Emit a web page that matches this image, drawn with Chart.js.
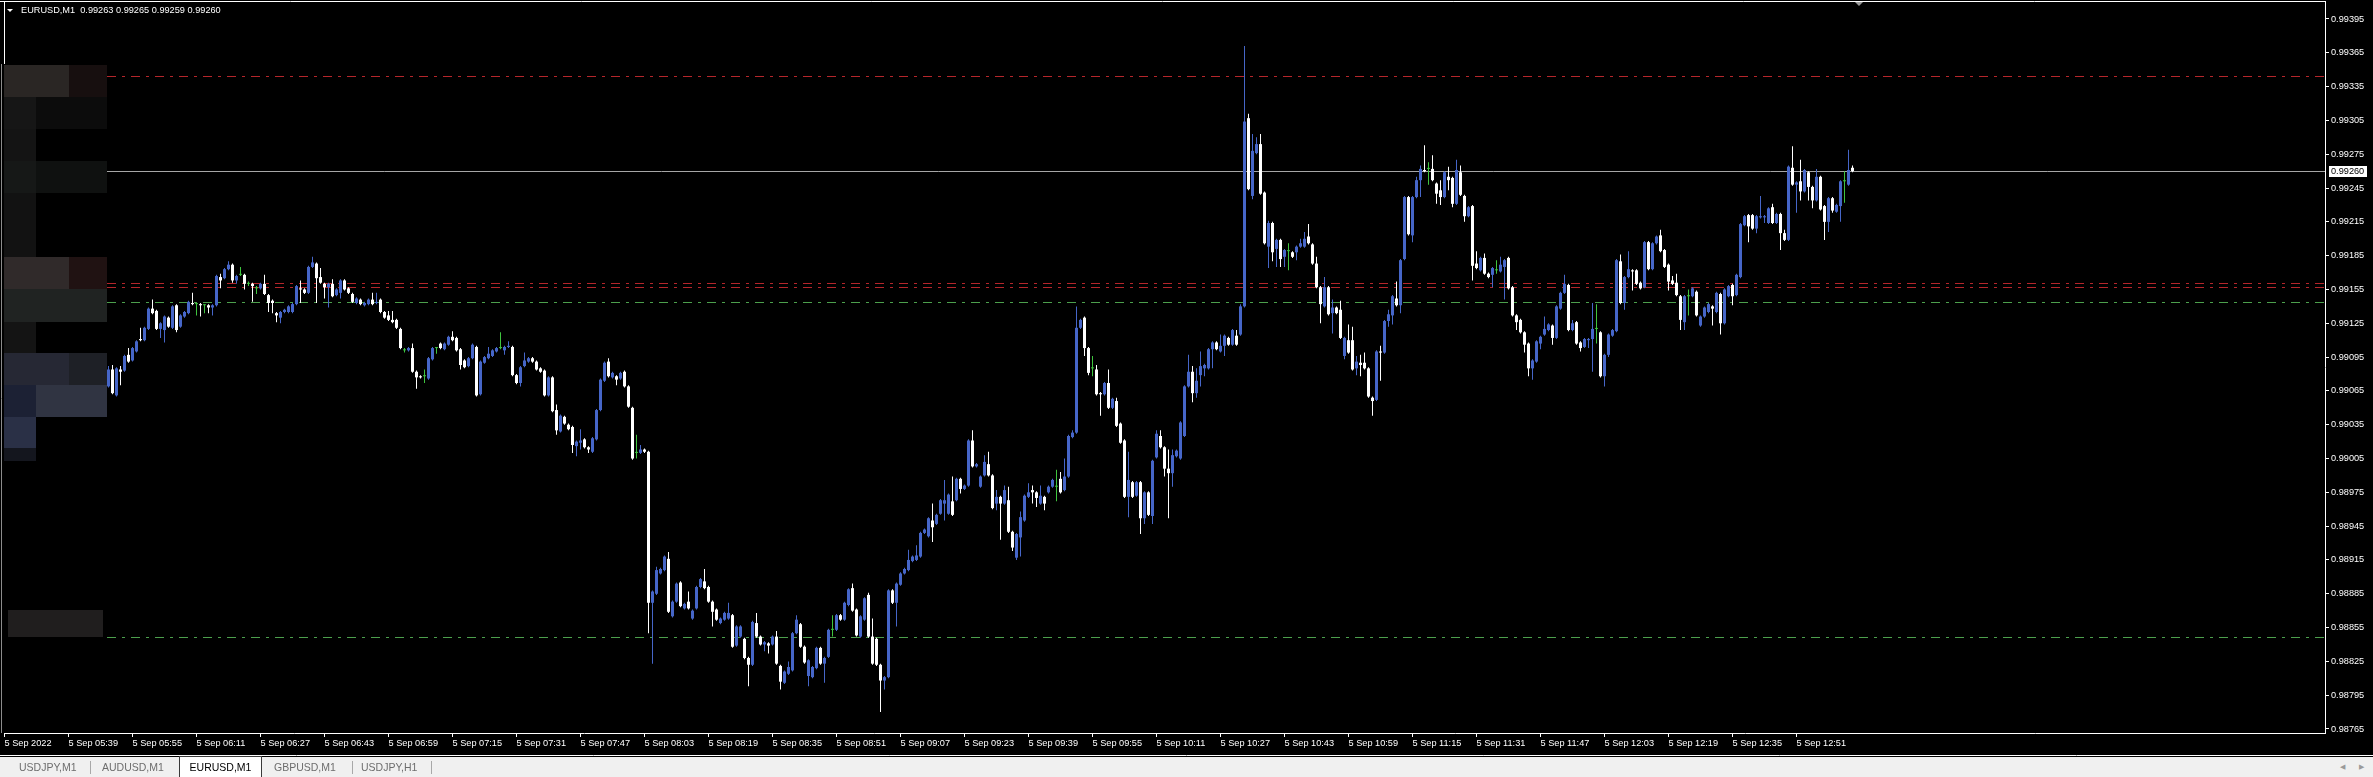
<!DOCTYPE html>
<html>
<head>
<meta charset="utf-8">
<title>EURUSD,M1</title>
<script src="https://cdn.jsdelivr.net/npm/chart.js@4.4.1/dist/chart.umd.min.js"></script>
<style>
  html, body { margin: 0; padding: 0; background: #000; width: 2373px; height: 777px; overflow: hidden; }
  #c { position: absolute; left: 0; top: 0; }
  #tabs { position: absolute; left: 0; top: 757px; width: 2373px; height: 20px; background: #f0f0f0;
          font: 10.5px "Liberation Sans", Arial, sans-serif; color: #6d6d6d; }
  #tabs span { position: absolute; top: 0; line-height: 20px; white-space: nowrap; }
  #tabs .sep { width: 1px; height: 13px; top: 4px; background: #a8a8a8; }
  #tabs .active { top: -1px; height: 20px; line-height: 21px; background: #fff; color: #000;
                  border: 1px solid #3a3a3a; border-bottom: none; text-align: center; }
  #tabs .arr { font-size: 7px; color: #9a9a9a; }
</style>
</head>
<body>
<canvas id="c" width="2373" height="757"></canvas>
<div id="tabs">
  <span style="left:19px">USDJPY,M1</span>
  <span class="sep" style="left:90px"></span>
  <span style="left:102px">AUDUSD,M1</span>
  <span class="active" style="left:179px;width:81px">EURUSD,M1</span>
  <span style="left:274px">GBPUSD,M1</span>
  <span class="sep" style="left:352px"></span>
  <span style="left:361px">USDJPY,H1</span>
  <span class="sep" style="left:431px"></span>
  <span class="arr" style="left:2340px">&#9664;</span>
  <span class="arr" style="left:2359px">&#9654;</span>
</div>
<script>
// EURUSD M1, 5 Sep 2022, one bar per minute starting 05:49
// prices are kept in points (0.00001) above 0.98000
const BASE = 0.98, POINT = 0.00001;
const firstBarMinute = 349; // 05:49

const opens = [
  1069,1084,1061,1084,1083,1097,1092,1100,1111,1110,
  1120,1138,1136,1120,1119,1130,1121,1141,1122,1131,
  1134,1143,1142,1142,1141,1141,1139,1141,1166,1165,
  1173,1177,1163,1168,1168,1160,1160,1156,1156,1160,
  1150,1145,1134,1130,1135,1135,1135,1142,1156,1155,
  1152,1175,1178,1166,1160,1157,1160,1150,1152,1163,
  1156,1151,1143,1146,1141,1142,1146,1143,1146,1135,
  1132,1128,1128,1120,1101,1101,1103,1082,1078,1078,
  1076,1093,1103,1107,1102,1106,1113,1112,1102,1092,
  1087,1094,1104,1062,1090,1094,1096,1100,1103,1101,
  1104,1104,1079,1072,1087,1091,1094,1091,1085,1083,
  1061,1077,1048,1029,1042,1035,1033,1016,1019,1022,
  1015,1011,1022,1048,1074,1091,1077,1078,1076,1082,
  1069,1050,1010,1010,1013,1011,877,885,903,906,
  916,865,878,895,872,878,863,872,891,896,
  891,878,871,859,862,863,866,839,847,845,
  828,822,859,847,840,841,840,847,821,806,
  814,817,850,858,838,812,811,819,837,823,
  829,853,853,866,862,875,890,871,847,862,
  884,847,845,822,808,811,888,877,893,903,
  906,914,915,918,939,936,950,947,956,965,
  956,967,968,987,978,981,1021,998,980,990,
  1000,990,965,971,965,968,940,917,935,950,
  971,977,975,965,971,975,980,980,987,977,
  989,1024,1028,1121,1130,1103,1085,1084,1063,1062,
  1072,1050,1056,1036,1021,971,984,972,984,952,
  975,954,1006,1025,1015,996,992,1007,1005,1025,
  1069,1082,1063,1079,1085,1085,1102,1108,1100,1105,
  1112,1106,1114,1115,1140,1307,1238,1276,1284,1241,
  1193,1214,1191,1199,1184,1189,1188,1188,1193,1193,
  1202,1195,1178,1157,1140,1157,1134,1139,1137,1096,
  1110,1110,1085,1090,1090,1085,1059,1057,1100,1099,
  1127,1132,1147,1141,1182,1237,1203,1237,1252,1261,
  1262,1262,1249,1243,1237,1255,1254,1231,1259,1238,
  1220,1229,1178,1172,1183,1169,1168,1172,1171,1175,
  1183,1157,1132,1128,1117,1107,1085,1091,1107,1115,
  1119,1123,1112,1138,1152,1159,1119,1126,1108,1104,
  1110,1111,1120,1117,1078,1097,1114,1118,1180,1143,
  1166,1172,1172,1161,1157,1197,1173,1196,1203,1190,
  1177,1163,1161,1149,1126,1149,1149,1153,1123,1131,
  1135,1140,1135,1151,1125,1149,1159,1150,1166,1212,
  1221,1221,1209,1219,1219,1214,1228,1214,1222,1205,
  1199,1263,1248,1251,1242,1259,1246,1234,1255,1229,
  1215,1236,1224,1229,1251,1248,1263
];
const highs = [
  1087,1088,1086,1087,1097,1103,1104,1110,1121,1122,
  1139,1146,1137,1126,1132,1131,1141,1142,1133,1136,
  1145,1152,1143,1143,1142,1142,1142,1168,1169,1174,
  1180,1178,1168,1175,1169,1162,1161,1158,1161,1168,
  1151,1146,1135,1136,1138,1141,1143,1159,1163,1156,
  1176,1184,1179,1174,1161,1161,1164,1156,1164,1164,
  1157,1152,1148,1147,1144,1147,1152,1152,1147,1136,
  1136,1136,1129,1121,1103,1104,1107,1083,1079,1084,
  1095,1104,1104,1108,1108,1114,1118,1113,1103,1093,
  1095,1107,1105,1092,1096,1104,1102,1104,1117,1105,
  1109,1105,1080,1087,1099,1095,1095,1092,1086,1084,
  1078,1078,1053,1044,1043,1036,1034,1021,1031,1023,
  1016,1024,1049,1076,1091,1094,1082,1079,1082,1083,
  1070,1051,1026,1017,1014,1012,888,909,908,919,
  922,879,895,896,877,887,871,892,899,907,
  892,879,872,864,869,877,867,857,857,846,
  829,861,868,848,843,842,848,852,822,817,
  825,851,866,859,839,827,821,838,838,829,
  854,866,867,867,878,890,894,872,866,882,
  886,863,846,823,812,889,889,895,904,908,
  924,919,928,940,943,953,965,956,969,986,
  974,989,988,988,982,1022,1030,1001,990,1008,
  1011,991,977,972,981,980,941,939,958,973,
  983,981,976,981,972,981,987,995,993,1005,
  1026,1030,1140,1129,1131,1104,1096,1088,1064,1073,
  1084,1059,1059,1037,1022,1011,985,985,985,976,
  976,1004,1030,1030,1016,1013,1013,1013,1038,1070,
  1097,1087,1085,1100,1089,1103,1109,1109,1115,1115,
  1113,1120,1119,1142,1371,1311,1293,1290,1293,1242,
  1216,1215,1200,1200,1191,1196,1189,1194,1200,1206,
  1213,1196,1184,1158,1166,1158,1146,1140,1145,1113,
  1124,1122,1096,1097,1099,1086,1060,1101,1105,1128,
  1137,1150,1162,1182,1238,1238,1238,1255,1265,1283,
  1268,1274,1250,1252,1260,1264,1255,1270,1265,1239,
  1229,1230,1189,1184,1187,1170,1175,1181,1184,1182,
  1184,1158,1133,1129,1118,1108,1093,1110,1114,1131,
  1125,1124,1141,1153,1168,1160,1128,1127,1109,1112,
  1112,1143,1142,1118,1098,1116,1120,1182,1186,1167,
  1189,1173,1173,1162,1198,1198,1197,1203,1208,1191,
  1178,1167,1169,1150,1150,1155,1157,1154,1132,1140,
  1143,1141,1153,1152,1156,1159,1160,1169,1214,1221,
  1222,1222,1221,1238,1221,1228,1231,1223,1223,1208,
  1265,1282,1251,1270,1262,1260,1247,1262,1256,1230,
  1237,1237,1231,1252,1260,1279,1265
];
const lows = [
  1068,1062,1060,1070,1082,1090,1091,1099,1109,1109,
  1119,1133,1119,1112,1108,1121,1120,1117,1121,1130,
  1133,1141,1132,1131,1134,1134,1132,1140,1156,1164,
  1172,1161,1160,1167,1155,1158,1144,1151,1155,1150,
  1135,1134,1126,1125,1134,1134,1134,1141,1143,1151,
  1151,1174,1143,1160,1147,1139,1148,1149,1147,1154,
  1151,1143,1142,1141,1140,1141,1141,1142,1134,1129,
  1127,1125,1120,1102,1099,1100,1081,1067,1076,1072,
  1075,1092,1098,1102,1101,1105,1109,1100,1084,1085,
  1086,1093,1060,1061,1089,1093,1095,1099,1102,1097,
  1103,1078,1071,1069,1086,1090,1090,1083,1081,1060,
  1060,1046,1026,1028,1035,1030,1010,1007,1013,1014,
  1010,1010,1021,1047,1073,1077,1076,1070,1075,1068,
  1050,1004,1005,1009,1010,850,823,884,902,905,
  868,864,877,873,871,871,862,871,890,889,
  877,856,861,858,861,862,837,838,846,827,
  803,821,846,839,834,832,839,822,800,805,
  813,816,849,837,823,803,810,818,822,806,
  828,847,852,861,861,874,869,847,846,861,
  846,822,821,780,800,810,876,856,892,902,
  905,913,914,917,938,935,931,946,955,950,
  955,954,967,974,977,980,997,997,979,989,
  989,960,959,933,964,939,923,915,918,949,
  970,965,962,964,959,974,979,967,974,976,
  988,1023,1027,1120,1096,1079,1078,1061,1043,1061,
  1049,1049,1033,1018,970,953,970,971,938,947,
  954,947,1005,1014,989,952,980,1006,1004,1024,
  1068,1055,1059,1069,1078,1084,1085,1101,1099,1096,
  1105,1105,1105,1114,1139,1243,1235,1275,1239,1195,
  1174,1180,1175,1175,1175,1172,1183,1181,1192,1192,
  1195,1177,1156,1125,1139,1132,1116,1133,1111,1093,
  1098,1083,1079,1078,1084,1059,1043,1056,1074,1098,
  1122,1124,1140,1134,1181,1203,1197,1236,1237,1259,
  1248,1251,1231,1230,1236,1243,1228,1230,1238,1215,
  1219,1163,1173,1171,1168,1165,1157,1169,1170,1146,
  1155,1131,1119,1116,1099,1078,1075,1090,1102,1114,
  1118,1106,1111,1137,1151,1118,1118,1106,1100,1103,
  1103,1082,1107,1077,1069,1095,1113,1117,1142,1137,
  1165,1154,1159,1155,1156,1172,1172,1195,1188,1174,
  1154,1159,1149,1119,1119,1132,1148,1131,1122,1130,
  1134,1123,1134,1115,1124,1148,1141,1149,1165,1211,
  1197,1208,1205,1218,1214,1213,1213,1213,1190,1198,
  1198,1247,1223,1234,1241,1234,1227,1233,1225,1199,
  1206,1223,1223,1215,1232,1247,1259
];
const closes = [
  1084,1063,1085,1082,1096,1091,1103,1109,1110,1121,
  1138,1134,1120,1125,1131,1122,1140,1119,1132,1135,
  1144,1142,1142,1141,1141,1139,1141,1167,1163,1173,
  1177,1163,1167,1168,1160,1160,1158,1156,1160,1151,
  1143,1143,1132,1135,1137,1140,1142,1158,1155,1152,
  1175,1179,1165,1161,1157,1160,1149,1155,1163,1155,
  1152,1144,1147,1142,1143,1146,1142,1144,1135,1130,
  1128,1126,1121,1103,1101,1103,1082,1077,1077,1078,
  1094,1103,1103,1103,1107,1113,1110,1101,1088,1086,
  1094,1106,1061,1091,1095,1098,1101,1103,1103,1104,
  1105,1079,1072,1086,1092,1094,1091,1084,1082,1061,
  1077,1047,1030,1043,1036,1031,1017,1020,1021,1015,
  1013,1023,1048,1075,1090,1078,1081,1075,1081,1069,
  1051,1005,1010,1013,1011,877,887,906,907,918,
  869,878,894,874,876,872,870,891,898,890,
  878,869,862,863,868,868,838,856,856,828,
  822,860,847,840,842,839,847,823,807,816,
  820,850,862,838,824,826,820,837,823,828,
  853,853,866,862,877,889,870,848,865,881,
  847,823,822,808,811,888,877,894,903,907,
  915,918,919,939,942,952,944,955,968,968,
  973,955,987,978,981,1021,998,1000,989,1002,
  990,961,971,965,977,940,926,938,953,972,
  975,975,970,972,965,980,986,980,975,989,
  1025,1028,1121,1128,1103,1081,1085,1062,1062,1072,
  1050,1058,1034,1019,971,986,971,984,952,975,
  955,1003,1027,1015,996,992,1008,1012,1037,1069,
  1082,1063,1074,1087,1088,1102,1108,1102,1105,1114,
  1106,1119,1106,1140,1304,1244,1278,1284,1240,1196,
  1214,1188,1199,1182,1190,1189,1184,1193,1196,1200,
  1196,1178,1157,1142,1157,1133,1139,1134,1112,1112,
  1099,1084,1091,1088,1085,1060,1056,1100,1099,1127,
  1133,1149,1141,1181,1237,1204,1237,1252,1262,1260,
  1262,1252,1240,1237,1259,1252,1231,1261,1239,1220,
  1228,1176,1174,1183,1169,1166,1174,1172,1177,1181,
  1156,1132,1126,1117,1106,1085,1092,1109,1113,1120,
  1124,1112,1140,1152,1160,1119,1125,1107,1103,1111,
  1111,1120,1120,1078,1097,1115,1119,1181,1143,1166,
  1173,1171,1160,1156,1197,1173,1196,1202,1189,1175,
  1162,1160,1150,1128,1149,1149,1156,1132,1131,1139,
  1142,1138,1152,1125,1155,1158,1149,1168,1213,1220,
  1211,1209,1220,1220,1220,1227,1214,1222,1205,1199,
  1264,1248,1250,1242,1261,1246,1234,1255,1226,1215,
  1236,1225,1230,1251,1251,1261,1260
];

// time axis: minutes after midnight and their labels
const xTickMinutes = [323,339,355,371,387,403,419,435,451,467,483,499,515,531,547,
                      563,579,595,611,627,643,659,675,691,707,723,739,755,771];
const xTickLabels = ['5 Sep 2022','5 Sep 05:39','5 Sep 05:55','5 Sep 06:11','5 Sep 06:27',
  '5 Sep 06:43','5 Sep 06:59','5 Sep 07:15','5 Sep 07:31','5 Sep 07:47','5 Sep 08:03',
  '5 Sep 08:19','5 Sep 08:35','5 Sep 08:51','5 Sep 09:07','5 Sep 09:23','5 Sep 09:39',
  '5 Sep 09:55','5 Sep 10:11','5 Sep 10:27','5 Sep 10:43','5 Sep 10:59','5 Sep 11:15',
  '5 Sep 11:31','5 Sep 11:47','5 Sep 12:03','5 Sep 12:19','5 Sep 12:35','5 Sep 12:51'];
const yTickValues = [0.98765,0.98795,0.98825,0.98855,0.98885,0.98915,0.98945,0.98975,
  0.99005,0.99035,0.99065,0.99095,0.99125,0.99155,0.99185,0.99215,0.99245,0.99275,
  0.99305,0.99335,0.99365,0.99395];

// horizontal levels drawn on the chart
const levelPrices = [0.99344, 0.99161, 0.99157, 0.99144, 0.98847, 0.99260];
const levelColors = ['#b5262b', '#b5262b', '#b5262b', '#4c9f4c', '#4c9f4c', '#a6a6a6'];
const levelDashed = [true, true, true, true, true, false];
const levelStart = 348.6;

// faint blocks at the left edge: [from, to, top price, bottom price, colour]
const shadeBlocks = [
  [322.9, 339.1, 0.99354, 0.99326, '#2a2624'], [339.1, 348.6, 0.99354, 0.99326, '#170f0f'],
  [322.9, 330.9, 0.99326, 0.99297, '#161616'], [330.9, 348.6, 0.99326, 0.99297, '#0c0c0c'],
  [322.9, 330.9, 0.99297, 0.99269, '#141414'],
  [322.9, 330.9, 0.99269, 0.99241, '#161817'], [330.9, 348.6, 0.99269, 0.99241, '#0f1110'],
  [322.9, 330.9, 0.99241, 0.99184, '#121212'],
  [322.9, 339.1, 0.99184, 0.99155, '#302a2a'], [339.1, 348.6, 0.99184, 0.99155, '#201212'],
  [322.9, 348.6, 0.99155, 0.99126, '#202322'],
  [322.9, 330.9, 0.99126, 0.99099, '#141414'],
  [322.9, 339.1, 0.99099, 0.99070, '#262834'], [339.1, 348.6, 0.99099, 0.99070, '#1e2026'],
  [322.9, 330.9, 0.99070, 0.99042, '#1c2134'], [330.9, 348.6, 0.99070, 0.99042, '#303442'],
  [322.9, 330.9, 0.99042, 0.99014, '#2a3046'],
  [322.9, 330.9, 0.99014, 0.99003, '#14161e'],
  [323.9, 347.6, 0.98871, 0.98847, '#201e1e']
];

const BULL = '#4666c8', BEAR = '#ffffff', DOJI = '#3fc43f';

// pick a narrow font if there is one
const AXIS_FONT = (function () {
  const c = document.createElement('canvas').getContext('2d');
  const probe = '0.99395 5 Sep 12:51 EURUSD';
  c.font = '20px monospace';
  const w0 = c.measureText(probe).width;
  c.font = '20px "Liberation Sans Narrow", monospace';
  const w1 = c.measureText(probe).width;
  if (w1 !== w0) return { family: '"Liberation Sans Narrow"', size: 11 };
  return { family: '"Liberation Sans", Arial', size: 9.2 };
})();
const fontStr = AXIS_FONT.size + 'px ' + AXIS_FONT.family;

const toPrice = v => BASE + v * POINT;
const times = opens.map((_, i) => firstBarMinute + i);
const bodies = times.map((t, i) => ({ x: t, y: [toPrice(opens[i]), toPrice(closes[i])] }));
const wicks = times.map((t, i) => ({ x: t, y: [toPrice(lows[i]), toPrice(highs[i])] }));
const candleColors = opens.map((o, i) => closes[i] > o ? BULL : (closes[i] < o ? BEAR : DOJI));

const last = opens.length - 1;
const bid = toPrice(closes[last]);

const mtChrome = {
  id: 'mtChrome',
  beforeDraw(chart) {
    const { ctx, width, height, scales: { x, y } } = chart;
    ctx.save();
    ctx.fillStyle = '#000';
    ctx.fillRect(0, 0, width, height);
    shadeBlocks.forEach(([t0, t1, p0, p1, col]) => {
      const xa = Math.round(x.getPixelForValue(t0)), xb = Math.round(x.getPixelForValue(t1));
      const ya = Math.round(y.getPixelForValue(p0)), yb = Math.round(y.getPixelForValue(p1));
      ctx.fillStyle = col;
      ctx.fillRect(xa, ya, xb - xa, yb - ya);
    });
    ctx.restore();
  },
  beforeDatasetsDraw(chart) {
    const { ctx, chartArea: a, scales: { x, y } } = chart;
    const x0 = Math.round(x.getPixelForValue(levelStart));
    ctx.save();
    ctx.lineWidth = 1;
    levelPrices.forEach((p, k) => {
      const yy = Math.round(y.getPixelForValue(p)) + 0.5;
      ctx.strokeStyle = levelColors[k];
      ctx.setLineDash(levelDashed[k] ? [9, 6, 3, 6] : []);
      ctx.beginPath();
      ctx.moveTo(x0, yy);
      ctx.lineTo(a.right, yy);
      ctx.stroke();
    });
    ctx.restore();
  },
  afterDraw(chart) {
    const { ctx, chartArea: a, width, scales: { x, y } } = chart;
    ctx.save();
    // frame
    ctx.strokeStyle = '#ffffff';
    ctx.lineWidth = 1;
    ctx.beginPath();
    ctx.moveTo(0, a.top + 0.5); ctx.lineTo(a.right, a.top + 0.5);
    ctx.moveTo(a.left + 0.5, a.top); ctx.lineTo(a.left + 0.5, 64);
    ctx.stroke();
    ctx.strokeStyle = '#8c8c8c';
    ctx.beginPath();
    ctx.moveTo(1.5, 64); ctx.lineTo(1.5, a.bottom);
    ctx.stroke();
    ctx.strokeStyle = '#ffffff';
    ctx.beginPath();
    ctx.moveTo(0, 755.5); ctx.lineTo(width, 755.5);
    ctx.stroke();

    // header
    ctx.fillStyle = '#ffffff';
    ctx.beginPath();
    ctx.moveTo(7, 9); ctx.lineTo(13, 9); ctx.lineTo(10, 12); ctx.closePath();
    ctx.fill();
    ctx.font = fontStr;
    ctx.textBaseline = 'middle';
    ctx.textAlign = 'left';
    const f = v => toPrice(v).toFixed(5);
    ctx.fillText('EURUSD,M1  ' + f(opens[last]) + ' ' + f(highs[last]) + ' ' +
                 f(lows[last]) + ' ' + f(closes[last]), 21, 10.5);

    // bid label
    const yb = Math.round(y.getPixelForValue(bid));
    ctx.fillStyle = '#ffffff';
    ctx.fillRect(a.right + 4, yb - 5, 38, 11);
    ctx.fillStyle = '#000000';
    ctx.fillText(bid.toFixed(5), a.right + 6, yb + 0.5);

    // chart shift marker
    const xs = Math.round(x.getPixelForValue(times[last] + 1.5));
    ctx.fillStyle = '#9a9a9a';
    ctx.beginPath();
    ctx.moveTo(xs - 4, 2); ctx.lineTo(xs + 4, 2); ctx.lineTo(xs, 6); ctx.closePath();
    ctx.fill();
    ctx.restore();
  }
};

new Chart(document.getElementById('c'), {
  type: 'bar',
  data: {
    datasets: [
      { label: 'wick', data: wicks, backgroundColor: candleColors, barThickness: 1,
        grouped: false, inflateAmount: 0, borderWidth: 0, order: 2 },
      { label: 'body', data: bodies, backgroundColor: candleColors, barThickness: 3,
        grouped: false, inflateAmount: 0, borderWidth: 0, minBarLength: 1, order: 1 }
    ]
  },
  options: {
    responsive: false,
    animation: false,
    devicePixelRatio: 1,
    events: [],
    layout: { padding: { left: 4, top: 1, right: 0, bottom: 0 } },
    plugins: { legend: { display: false }, tooltip: { enabled: false }, title: { display: false } },
    scales: {
      x: {
        type: 'linear', min: 322.875, max: 903.125, offset: false,
        grid: { display: true, drawOnChartArea: false, drawTicks: true, tickLength: 4,
                tickColor: '#ffffff', offset: false },
        border: { display: true, color: '#ffffff', width: 1 },
        afterBuildTicks: s => { s.ticks = xTickMinutes.map(v => ({ value: v })); },
        afterFit: s => { s.height = 24; s.paddingLeft = 0; s.paddingRight = 0; },
        ticks: { autoSkip: false, maxRotation: 0, minRotation: 0, align: 'start', padding: 1,
                 color: '#ffffff', font: { family: AXIS_FONT.family, size: AXIS_FONT.size },
                 callback: (v, i) => xTickLabels[i] }
      },
      y: {
        type: 'linear', position: 'right', min: 0.9876145, max: 0.9941097, beginAtZero: false,
        grid: { display: true, drawOnChartArea: false, drawTicks: true, tickLength: 4,
                tickColor: '#ffffff' },
        border: { display: true, color: '#ffffff', width: 1 },
        afterBuildTicks: s => { s.ticks = yTickValues.map(v => ({ value: v })); },
        afterFit: s => { s.width = 48; s.paddingTop = 0; s.paddingBottom = 0; },
        ticks: { autoSkip: false, padding: 2, color: '#ffffff',
                 font: { family: AXIS_FONT.family, size: AXIS_FONT.size },
                 callback: v => v.toFixed(5) }
      }
    }
  },
  plugins: [mtChrome]
});
</script>
</body>
</html>
